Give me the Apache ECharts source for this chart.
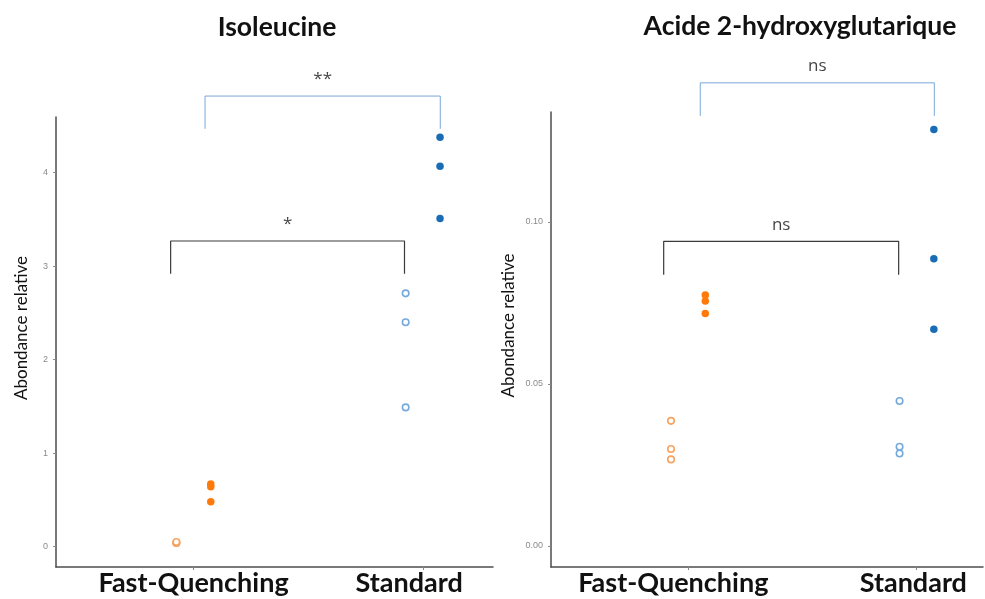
<!DOCTYPE html>
<html>
<head>
<meta charset="utf-8">
<script src="https://cdn.jsdelivr.net/npm/echarts@6/dist/echarts.min.js"></script>
<style>
  html, body { margin: 0; padding: 0; background: #fff; }
  #chart { width: 985px; height: 599px; }
</style>
</head>
<body>
<div id="chart"></div>
<script>
// Groups on the x axis
const categories = ['Fast-Quenching', 'Standard'];

// Isoleucine — relative abundance per replicate
const isoFastOpen = [0.04, 0.04, 0.05];
const isoFastFilled = [0.48, 0.64, 0.67];
const isoStdOpen = [1.49, 2.40, 2.71];
const isoStdFilled = [3.51, 4.07, 4.38];
const isoTicks = [0, 1, 2, 3, 4];

// Acide 2-hydroxyglutarique — relative abundance per replicate
const hgFastOpen = [0.0267, 0.0299, 0.0386];
const hgFastFilled = [0.0717, 0.0756, 0.0774];
const hgStdOpen = [0.0285, 0.0306, 0.0447];
const hgStdFilled = [0.0669, 0.0886, 0.1285];
const hgTicks = [0, 0.05, 0.10];

// Significance brackets: [x start, x end], bar height, foot height, label
const isoBracketLow = { x: [0.9, 1.92], top: 3.27, foot: 2.92, text: '*' };
const isoBracketHigh = { x: [1.05, 2.076], top: 4.82, foot: 4.47, text: '**' };
const hgBracketLow = { x: [0.893, 1.921], top: 0.0940, foot: 0.0837, text: 'ns' };
const hgBracketHigh = { x: [1.053, 2.077], top: 0.1429, foot: 0.1327, text: 'ns' };

const DODGE = 0.075;
const ORANGE = '#ff7a0a';
const ORANGE_LIGHT = '#f9a360';
const BLUE = '#1a6db5';
const BLUE_LIGHT = '#76aadb';
const LABEL_FONT = 'Lato, "Open Sans", sans-serif';

function points(values, catIndex, shift) {
  return values.map(v => [catIndex + 1 + shift, v]);
}

function dots(idx, values, catIndex, shift, color, hollow) {
  return {
    type: 'scatter',
    xAxisIndex: idx, yAxisIndex: idx,
    symbol: 'circle',
    symbolSize: hollow ? 6.5 : 7.5,
    itemStyle: hollow
      ? { color: '#fff', borderColor: color, borderWidth: 1.6, opacity: 1 }
      : { color: color, borderWidth: 0, opacity: 1 },
    data: points(values, catIndex, shift),
    z: 3
  };
}

function bracket(idx, b, color, width) {
  return [{
    type: 'line',
    xAxisIndex: idx, yAxisIndex: idx,
    clip: false,
    showSymbol: false,
    symbol: 'none',
    silent: true,
    lineStyle: { color: color, width: width },
    data: [[b.x[0], b.foot], [b.x[0], b.top], [b.x[1], b.top], [b.x[1], b.foot]],
    z: 2
  }, {
    type: 'scatter',
    xAxisIndex: idx, yAxisIndex: idx,
    clip: false,
    symbolSize: 0,
    silent: true,
    data: [[(b.x[0] + b.x[1]) / 2, b.top]],
    label: {
      show: true, position: 'top', distance: 8,
      formatter: b.text,
      color: '#111', fontSize: 17, fontFamily: '"Open Sans", sans-serif'
    }
  }];
}

function xAxis(idx, max, labelAt) {
  return {
    type: 'value', gridIndex: idx,
    min: 0.4, max: max,
    axisLine: { onZero: false, lineStyle: { color: '#4d4d4d', width: 1.5 } },
    axisTick: { show: true, customValues: [1, 2], length: 3, lineStyle: { color: '#8a8a8a' } },
    axisLabel: {
      customValues: labelAt,
      formatter: v => categories[v < 1.5 ? 0 : 1],
      color: '#111', fontSize: 27, fontWeight: 'bold', fontFamily: LABEL_FONT, margin: 3
    },
    splitLine: { show: false }
  };
}

function yAxis(idx, min, max, ticks, digits, gap) {
  return {
    type: 'value', gridIndex: idx,
    min: min, max: max,
    name: 'Abondance relative',
    nameLocation: 'middle',
    nameRotate: 90,
    nameGap: gap,
    nameTextStyle: { color: '#111', fontSize: 17, fontFamily: LABEL_FONT, padding: [0, 0, 0, 28] },
    axisLine: { show: true, onZero: false, lineStyle: { color: '#4d4d4d', width: 1.5 } },
    axisTick: { show: true, customValues: ticks, length: 3, lineStyle: { color: '#8a8a8a' } },
    axisLabel: {
      customValues: ticks,
      formatter: v => v.toFixed(digits),
      color: '#8a8a8a', fontSize: 9, fontFamily: '"Liberation Sans", Arial, sans-serif', margin: 8
    },
    splitLine: { show: false }
  };
}

const chart = echarts.init(document.getElementById('chart'), null, { renderer: 'canvas' });

chart.setOption({
  backgroundColor: '#ffffff',
  animation: false,
  graphic: [
    { type: 'text', x: 277, y: 27, style: { text: 'Isoleucine', fill: '#111', font: 'bold 26.5px ' + LABEL_FONT, textAlign: 'center', textVerticalAlign: 'middle' } },
    { type: 'text', x: 800, y: 26, style: { text: 'Acide 2-hydroxyglutarique', fill: '#111', font: 'bold 26.5px ' + LABEL_FONT, textAlign: 'center', textVerticalAlign: 'middle' } }
  ],
  grid: [
    { left: 56, top: 117, width: 437, height: 450 },
    { left: 551, top: 112, width: 432, height: 455 }
  ],
  xAxis: [
    xAxis(0, 2.306, [1.0, 1.94]),
    xAxis(1, 2.29, [0.935, 1.985])
  ],
  yAxis: [
    yAxis(0, -0.217, 4.596, isoTicks, 0, 26),
    yAxis(1, -0.0065, 0.1339, hgTicks, 2, 34)
  ],
  series: [
    dots(0, isoFastOpen, 0, -DODGE, ORANGE_LIGHT, true),
    dots(0, isoFastFilled, 0, DODGE, ORANGE, false),
    dots(0, isoStdOpen, 1, -DODGE, BLUE_LIGHT, true),
    dots(0, isoStdFilled, 1, DODGE, BLUE, false),
    ...bracket(0, isoBracketLow, '#3a3a3a', 1.2),
    ...bracket(0, isoBracketHigh, '#7aa7d9', 1),
    dots(1, hgFastOpen, 0, -DODGE, ORANGE_LIGHT, true),
    dots(1, hgFastFilled, 0, DODGE, ORANGE, false),
    dots(1, hgStdOpen, 1, -DODGE, BLUE_LIGHT, true),
    dots(1, hgStdFilled, 1, DODGE, BLUE, false),
    ...bracket(1, hgBracketLow, '#3a3a3a', 1.2),
    ...bracket(1, hgBracketHigh, '#7aa7d9', 1)
  ]
});
</script>
</body>
</html>
